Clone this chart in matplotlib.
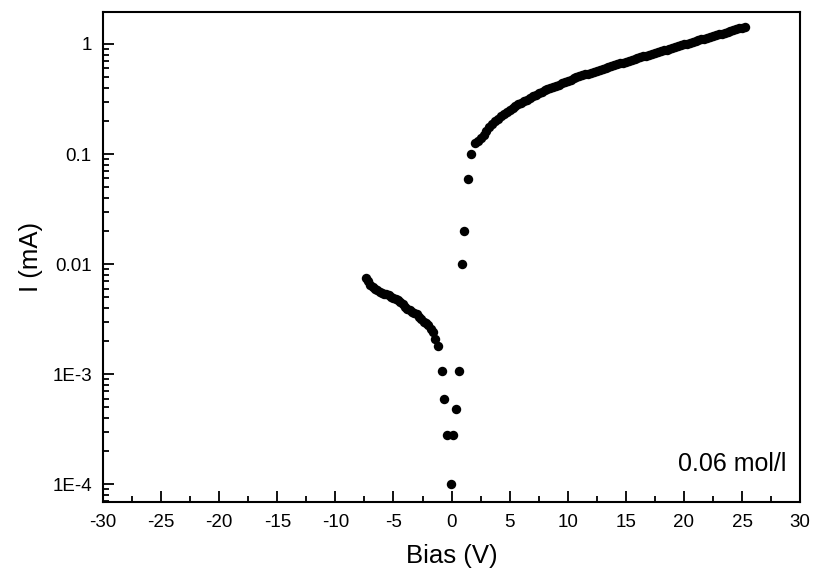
import matplotlib
matplotlib.use('Agg')
import matplotlib.pyplot as plt
from matplotlib.ticker import FixedLocator, FixedFormatter, LogLocator, NullFormatter, MultipleLocator

plt.rcParams['font.family'] = ['Liberation Sans', 'DejaVu Sans']
plt.rcParams['axes.unicode_minus'] = False

# reverse branch (dense part)
neg_v = [-7.4, -7.2, -7.0, -6.8, -6.6, -6.4, -6.2, -6.0, -5.8, -5.6, -5.4, -5.2,
         -5.0, -4.8, -4.6, -4.4, -4.2, -4.0, -3.8, -3.6, -3.4, -3.2, -3.0, -2.8,
         -2.6, -2.4, -2.2, -2.0, -1.8, -1.6, -1.4, -1.2]
neg_i = [0.0075, 0.0070, 0.0065, 0.0062, 0.0059, 0.0058, 0.0056, 0.0055, 0.0054,
         0.0053, 0.0052, 0.0050, 0.0049, 0.0048, 0.0047, 0.0045, 0.0043, 0.0041,
         0.0039, 0.0038, 0.0037, 0.0036, 0.0035, 0.0033, 0.0032, 0.0030, 0.0029,
         0.0028, 0.0026, 0.0024, 0.0021, 0.0018]

# scattered points around zero bias
mid_v = [-0.82, -0.65, -0.39, 0.13, -0.04, 0.39, 0.65, 0.9, 1.08, 1.42, 1.68, 2.0]
mid_i = [0.00107, 0.00059, 0.00028, 0.00028, 0.0001, 0.00048, 0.00107, 0.01,
         0.02, 0.059, 0.1, 0.126]

# forward branch
pos_v = [2.25, 2.5, 2.75, 3.0, 3.25, 3.5, 3.75, 4.0, 4.25, 4.5, 4.75, 5.0,
         5.25, 5.5, 5.75, 6.0, 6.25, 6.5, 6.75, 7.0, 7.25, 7.5, 7.75, 8.0,
         8.25, 8.5, 8.75, 9.0, 9.25, 9.5, 9.75, 10.0, 10.25, 10.5, 10.75, 11.0,
         11.25, 11.5, 11.75, 12.0, 12.25, 12.5, 12.75, 13.0, 13.25, 13.5, 13.75, 14.0,
         14.25, 14.5, 14.75, 15.0, 15.25, 15.5, 15.75, 16.0, 16.25, 16.5, 16.75, 17.0,
         17.25, 17.5, 17.75, 18.0, 18.25, 18.5, 18.75, 19.0, 19.25, 19.5, 19.75, 20.0,
         20.25, 20.5, 20.75, 21.0, 21.25, 21.5, 21.75, 22.0, 22.25, 22.5, 22.75, 23.0,
         23.25, 23.5, 23.75, 24.0, 24.25, 24.5, 24.75, 25.0, 25.25]
pos_i = [0.132, 0.140, 0.150, 0.162, 0.175, 0.188, 0.198, 0.208, 0.220, 0.232, 0.243, 0.253,
         0.263, 0.273, 0.283, 0.293, 0.303, 0.313, 0.323, 0.334, 0.345, 0.356, 0.367, 0.378,
         0.388, 0.398, 0.408, 0.418, 0.428, 0.439, 0.451, 0.463, 0.475, 0.487, 0.498, 0.509,
         0.519, 0.529, 0.539, 0.550, 0.561, 0.572, 0.583, 0.595, 0.607, 0.618, 0.629, 0.640,
         0.652, 0.665, 0.677, 0.690, 0.702, 0.715, 0.730, 0.745, 0.757, 0.770, 0.785, 0.800,
         0.815, 0.830, 0.845, 0.860, 0.875, 0.890, 0.907, 0.925, 0.942, 0.960, 0.975, 0.990,
         1.005, 1.02, 1.04, 1.06, 1.08, 1.10, 1.12, 1.14, 1.16, 1.18, 1.20, 1.22,
         1.245, 1.27, 1.29, 1.31, 1.335, 1.36, 1.385, 1.41, 1.43]

y_ticks = [1e-4, 1e-3, 1e-2, 1e-1, 1]
y_labels = ['1E-4', '1E-3', '0.01', '0.1', '1']

fig = plt.figure(figsize=(8.14, 5.75), dpi=100)
ax = fig.add_axes([0.1265, 0.127, 0.8565, 0.852])

for v, i in [(neg_v, neg_i), (mid_v, mid_i), (pos_v, pos_i)]:
    ax.plot(v, i, 'o', color='black', markersize=6.8, markeredgewidth=0)

ax.set_yscale('log')
ax.set_xlim(-30, 30)
ax.set_ylim(6.9e-5, 1.95)

ax.xaxis.set_major_locator(MultipleLocator(5))
ax.xaxis.set_minor_locator(MultipleLocator(2.5))
ax.yaxis.set_major_locator(FixedLocator(y_ticks))
ax.yaxis.set_major_formatter(FixedFormatter(y_labels))
ax.yaxis.set_minor_locator(LogLocator(base=10, subs=range(2, 10)))
ax.yaxis.set_minor_formatter(NullFormatter())

ax.tick_params(which='both', direction='in', top=False, right=False, width=1.3)
ax.tick_params(which='major', length=8, labelsize=13.5)
ax.tick_params(axis='x', which='major', pad=9)
ax.tick_params(axis='y', which='major', pad=8)
ax.tick_params(which='minor', length=4)
for s in ax.spines.values():
    s.set_linewidth(1.5)

ax.set_xlabel('Bias (V)', fontsize=18.5, labelpad=9)
ax.set_ylabel('I (mA)', fontsize=18.5, labelpad=7)

ax.text(0.98, 0.078, '0.06 mol/l', transform=ax.transAxes, ha='right',
        va='center', fontsize=18)

fig.savefig('out.png', dpi=100)
